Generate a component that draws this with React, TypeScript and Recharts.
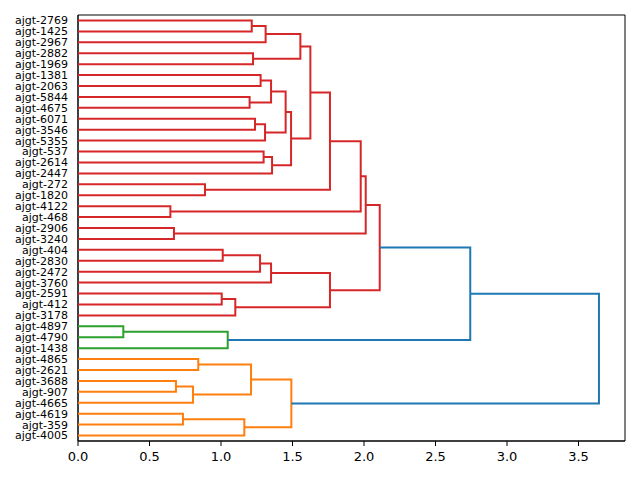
import { ScatterChart, Scatter, XAxis, YAxis, ReferenceArea } from "recharts";

// leaf order, top to bottom
const leafLabels = [
  "ajgt-2769", "ajgt-1425", "ajgt-2967", "ajgt-2882", "ajgt-1969", "ajgt-1381",
  "ajgt-2063", "ajgt-5844", "ajgt-4675", "ajgt-6071", "ajgt-3546", "ajgt-5355",
  "ajgt-537", "ajgt-2614", "ajgt-2447", "ajgt-272", "ajgt-1820", "ajgt-4122",
  "ajgt-468", "ajgt-2906", "ajgt-3240", "ajgt-404", "ajgt-2830", "ajgt-2472",
  "ajgt-3760", "ajgt-2591", "ajgt-412", "ajgt-3178", "ajgt-4897", "ajgt-4790",
  "ajgt-1438", "ajgt-4865", "ajgt-2621", "ajgt-3688", "ajgt-907", "ajgt-4665",
  "ajgt-4619", "ajgt-359", "ajgt-4005",
];

// merges: [left node, right node, distance, cluster]; node n + k is merge k
const links: [number, number, number, string][] = [
  [0, 1, 1.215, "C3"],
  [39, 2, 1.312, "C3"],
  [3, 4, 1.224, "C3"],
  [40, 41, 1.555, "C3"],
  [5, 6, 1.277, "C3"],
  [7, 8, 1.2, "C3"],
  [43, 44, 1.35, "C3"],
  [9, 10, 1.238, "C3"],
  [46, 11, 1.308, "C3"],
  [45, 47, 1.452, "C3"],
  [12, 13, 1.298, "C3"],
  [49, 14, 1.357, "C3"],
  [48, 50, 1.49, "C3"],
  [42, 51, 1.625, "C3"],
  [15, 16, 0.888, "C3"],
  [52, 53, 1.762, "C3"],
  [17, 18, 0.646, "C3"],
  [54, 55, 1.977, "C3"],
  [19, 20, 0.671, "C3"],
  [56, 57, 2.012, "C3"],
  [21, 22, 1.012, "C3"],
  [59, 23, 1.273, "C3"],
  [60, 24, 1.35, "C3"],
  [25, 26, 1.005, "C3"],
  [62, 27, 1.1, "C3"],
  [61, 63, 1.762, "C3"],
  [58, 64, 2.11, "C3"],
  [28, 29, 0.317, "C2"],
  [66, 30, 1.047, "C2"],
  [65, 67, 2.743, "C0"],
  [31, 32, 0.841, "C1"],
  [33, 34, 0.685, "C1"],
  [70, 35, 0.804, "C1"],
  [69, 71, 1.21, "C1"],
  [36, 37, 0.734, "C1"],
  [73, 38, 1.163, "C1"],
  [72, 74, 1.492, "C1"],
  [68, 75, 3.643, "C0"],
];

const xTicks = [0, 0.5, 1, 1.5, 2, 2.5, 3, 3.5];

const palette: Record<string, string> = {
  C0: "#1f77b4",
  C1: "#ff7f0e",
  C2: "#2ca02c",
  C3: "#d62728",
};

const FONT = "DejaVu Sans, sans-serif";

const leafY = leafLabels.map((_, i) => 5 + 10 * i);
const xMax = Math.max(...links.map((l) => l[2])) * 1.05;
const yMax = leafLabels.length * 10;

// build the U-shaped segments for each merge
function buildSegments() {
  const ys = [...leafY];
  const hs = leafY.map(() => 0);
  return links.map(([a, b, d, c]) => {
    ys.push((ys[a] + ys[b]) / 2);
    hs.push(d);
    return {
      color: palette[c],
      points: [
        { x: hs[a], y: ys[a] },
        { x: d, y: ys[a] },
        { x: d, y: ys[b] },
        { x: hs[b], y: ys[b] },
      ],
    };
  });
}

const NoDot = () => <g />;

export default function App() {
  const segments = buildSegments();

  return (
    <div style={{ position: "absolute", left: 0, top: 0, background: "#fff" }}>
      <ScatterChart
        width={640}
        height={480}
        margin={{ top: 15, right: 15, bottom: 9, left: 0 }}
      >
        <XAxis
          type="number"
          dataKey="x"
          domain={[0, xMax]}
          ticks={xTicks}
          allowDataOverflow
          height={30}
          tickSize={5}
          tickMargin={6}
          tickFormatter={(v: number) => v.toFixed(1)}
          tick={{ fill: "#000", fontSize: 13, fontFamily: FONT }}
          axisLine={{ stroke: "#000" }}
          tickLine={{ stroke: "#000" }}
        />
        <YAxis
          type="number"
          dataKey="y"
          domain={[0, yMax]}
          ticks={leafY}
          reversed
          allowDataOverflow
          interval={0}
          width={78}
          tickSize={5}
          tickMargin={5}
          tickLine={false}
          tickFormatter={(v: number) => leafLabels[Math.round((v - 5) / 10)]}
          tick={{ fill: "#000", fontSize: 11, fontFamily: FONT }}
          axisLine={{ stroke: "#000" }}
        />
        <ReferenceArea
          x1={0}
          x2={xMax}
          y1={0}
          y2={yMax}
          fill="none"
          stroke="#000"
          strokeWidth={1}
          ifOverflow="visible"
        />
        {segments.map((s, i) => (
          <Scatter
            key={i}
            data={s.points}
            fill={s.color}
            line={{ stroke: s.color, strokeWidth: 2 }}
            shape={NoDot}
            isAnimationActive={false}
          />
        ))}
      </ScatterChart>
    </div>
  );
}
